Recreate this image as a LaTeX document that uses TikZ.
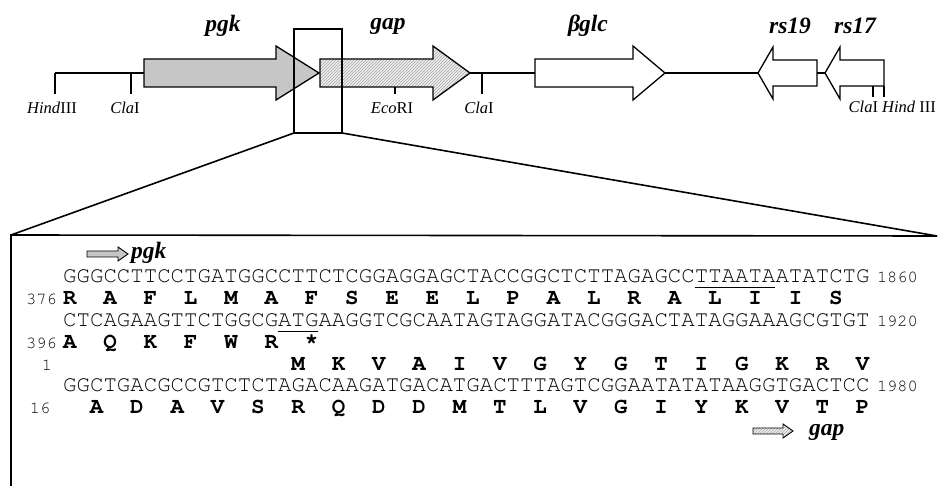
\documentclass[tikz,border=0pt]{standalone}
\usepackage{fontspec}
\setmainfont{Liberation Serif}
\newfontfamily\seqf{TeX Gyre Cursor}
\usetikzlibrary{patterns}
\tikzset{
  dna/.style={line width=1.4pt},
  geneA/.style={draw, line width=1.3pt, line join=miter, fill=gray!45},
  geneB/.style={draw, line width=1.3pt, line join=miter, preaction={fill=gray!12}, pattern=north east lines, pattern color=gray!70},
  geneW/.style={draw, line width=1.3pt, line join=miter, fill=white},
  frame/.style={line width=1.6pt},
  genelab/.style={font=\fontsize{23.5}{23.5}\selectfont\bfseries\itshape, inner sep=0pt},
  sitelab/.style={font=\fontsize{16.5}{16.5}\selectfont, inner sep=0pt},
  seqtxt/.style={font=\fontsize{22.4}{22.4}\selectfont\seqf, inner sep=0pt, anchor=base west},
  aatxt/.style={font=\fontsize{22.4}{22.4}\selectfont\seqf\bfseries, inner sep=0pt, anchor=base},
  numtxt/.style={font=\fontsize{17}{17}\selectfont\seqf, inner sep=0pt},
}
\begin{document}
\begin{tikzpicture}[x=1pt,y=-1pt]
\useasboundingbox (0,0) rectangle (938,486);
% ---------- map ----------
\coordinate (hindL) at (55,73);
\coordinate (claL) at (131,73);
\coordinate (pgkL) at (144,73);
\coordinate (gapT) at (470,73);
\coordinate (claM) at (482,73);
\coordinate (bglcL) at (535,73);
\coordinate (bglcT) at (665,73);
\coordinate (rsA) at (758,73);
\coordinate (rsAR) at (817,73);
\coordinate (rsB) at (825,73);
\draw[dna] (hindL) -- (pgkL);
\draw[dna] (gapT) -- (bglcL);
\draw[dna] (bglcT) -- (rsA);
\draw[dna] (rsAR) -- (rsB);
\draw[dna] (hindL) -- ++(0,21);
\draw[dna] (claL) -- ++(0,21);
\draw[dna] (claM) -- ++(0,21);
\draw[dna] (395,87) -- (395,94);
\draw[dna] (873,86) -- (873,97);
\draw[dna] (884,86) -- (884,97);
\draw[geneA] (144,59) -- (276,59) -- (276,46) -- (319,73) -- (276,100) -- (276,87) -- (144,87) -- cycle;
\draw[geneB] (320,59) -- (433,59) -- (433,46) -- (470,73) -- (433,100) -- (433,87) -- (320,87) -- cycle;
\draw[geneW] (535,59) -- (633,59) -- (633,46) -- (665,73) -- (633,100) -- (633,87) -- (535,87) -- cycle;
\draw[geneW] (817,60) -- (773,60) -- (773,47) -- (758,73) -- (773,99) -- (773,86) -- (817,86) -- cycle;
\draw[geneW] (884,60) -- (840,60) -- (840,47) -- (825,73) -- (840,99) -- (840,86) -- (884,86) -- cycle;
\node[genelab] (lpgk) at (223,26) {pgk};
\node[genelab] (lgap) at (388,26) {gap};
\node[genelab] (lbglc) at (588,26) {β\kern-1pt glc};
\node[genelab] (lrs19) at (790,26) {rs19};
\node[genelab] (lrs17) at (855,26) {rs17};
\node[sitelab] (s1) at (52,108) {\textit{Hind}III};
\node[sitelab] (s2) at (125,108) {\textit{Cla}I};
\node[sitelab] (s3) at (392,108) {\textit{Eco}RI};
\node[sitelab] (s4) at (479,108) {\textit{Cla}I};
\node[sitelab, anchor=east] (s5) at (936,107) {\textit{Cla}I \textit{Hind} III};
% zoom box
\coordinate (bTL) at (294,29);
\coordinate (bBL) at (294,133);
\coordinate (bBR) at (342,133);
\coordinate (fTL) at (11,235);
\coordinate (fTR) at (937,236);
\coordinate (fBL) at (11,486);
\draw[frame] (bTL) rectangle (bBR);
\draw[frame] (bBL) -- (fTL);
\draw[frame] (bBR) -- (fTR);
\draw[frame] (fTR) -- (fTL) -- (fBL);
% ---------- sequence ----------
\def\xo{63}
\def\cw{13.44}
\draw[geneA, line width=0.9pt] (87,251) -- (118,251) -- (118,247) -- (128,254) -- (118,261) -- (118,257) -- (87,257) -- cycle;
\node[genelab, anchor=west] (spgk) at (131,253) {pgk};
\node[seqtxt] (q1) at (\xo,283) {GGGCCTTCCTGATGGCCTTCTCGGAGGAGCTACCGGCTCTTAGAGCCTTAATAATATCTG};
\node[numtxt, anchor=base west] (n1) at ([xshift=7pt]q1.base east) {1860};
\node[seqtxt] (q2) at (\xo,327) {CTCAGAAGTTCTGGCGATGAAGGTCGCAATAGTAGGATACGGGACTATAGGAAAGCGTGT};
\node[numtxt, anchor=base west] (n2) at ([xshift=7pt]q2.base east) {1920};
\node[seqtxt] (q3) at (\xo,392) {GGCTGACGCCGTCTCTAGACAAGATGACATGACTTTAGTCGGAATATATAAGGTGACTCC};
\node[numtxt, anchor=base west] (n3) at ([xshift=7pt]q3.base east) {1980};
\draw[line width=0.8pt] (\xo+47*\cw,287) -- (\xo+53*\cw,287);
\draw[line width=0.8pt] (\xo+16*\cw,331) -- (\xo+19*\cw,331);
\node[numtxt, anchor=base east] (r1) at (57,305) {376};
\foreach \a [count=\i from 0] in {R,A,F,L,M,A,F,S,E,E,L,P,A,L,R,A,L,I,I,S}
  \node[aatxt] (aa1-\i) at (\xo+3*\i*\cw+0.5*\cw,305) {\a};
\node[numtxt, anchor=base east] (r2) at (57,349) {396};
\foreach \a [count=\i from 0] in {A,Q,K,F,W,R,*}
  \node[aatxt] (aa2-\i) at (\xo+3*\i*\cw+0.5*\cw,349) {\a};
\node[numtxt, anchor=base] (r3) at (47,371) {1};
\foreach \a [count=\i from 0] in {M,K,V,A,I,V,G,Y,G,T,I,G,K,R,V}
  \node[aatxt] (aa3-\i) at (\xo+17*\cw+3*\i*\cw+0.5*\cw,371) {\a};
\node[numtxt, anchor=base] (r4) at (40,414) {16};
\foreach \a [count=\i from 0] in {A,D,A,V,S,R,Q,D,D,M,T,L,V,G,I,Y,K,V,T,P}
  \node[aatxt] (aa4-\i) at (\xo+2*\cw+3*\i*\cw+0.5*\cw,414) {\a};
\draw[geneB, line width=0.9pt] (753,428) -- (783,428) -- (783,424) -- (793,431) -- (783,438) -- (783,434) -- (753,434) -- cycle;
\node[genelab, anchor=base west] (sgap) at (809,436) {gap};
\end{tikzpicture}
\end{document}
